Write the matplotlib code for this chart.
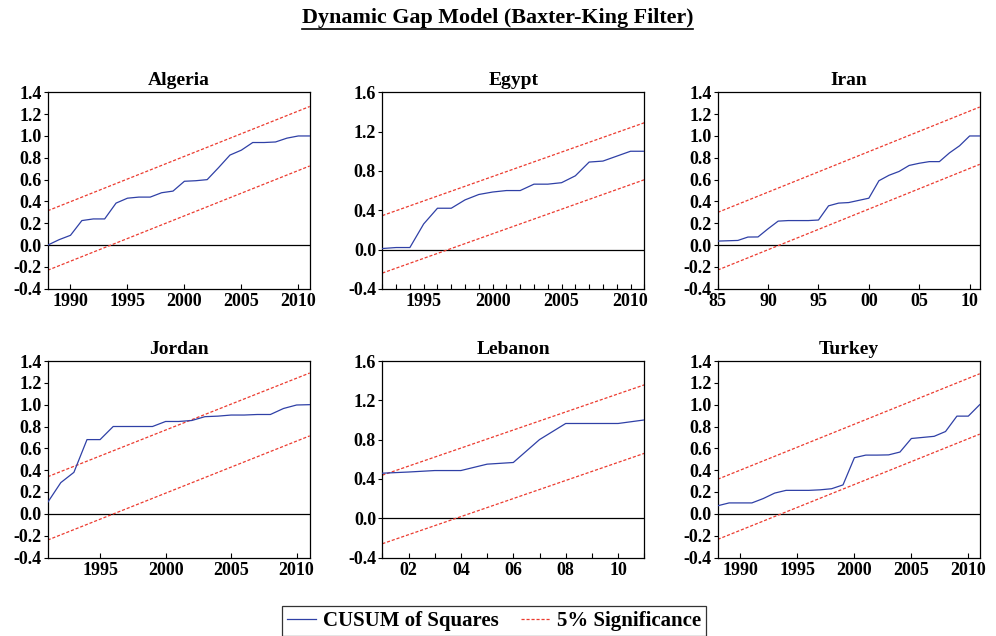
import numpy as np
import matplotlib
matplotlib.use('Agg')
import matplotlib.pyplot as plt
from matplotlib.lines import Line2D

plt.rcParams['font.family'] = ['Liberation Serif', 'DejaVu Serif']
plt.rcParams['font.weight'] = 'bold'

BLUE = '#2f40a6'
RED = '#ec3b2f'

# CUSUM of squares, first year + yearly values up to 2011
algeria_start = 1988
algeria_cusum = [0.0, 0.05, 0.09, 0.225, 0.24, 0.24, 0.385, 0.43, 0.44, 0.44, 0.48, 0.495,
                 0.585, 0.59, 0.60, 0.71, 0.825, 0.87, 0.94, 0.94, 0.945, 0.98, 1.0, 1.0]
egypt_start = 1992
egypt_cusum = [0.01, 0.02, 0.02, 0.26, 0.42, 0.42, 0.505, 0.56, 0.585, 0.60, 0.60, 0.665,
               0.665, 0.68, 0.75, 0.89, 0.90, 0.95, 1.0, 1.0]
iran_start = 1985
iran_cusum = [0.037, 0.04, 0.043, 0.074, 0.075, 0.15, 0.22, 0.225, 0.225, 0.225, 0.23, 0.36,
              0.385, 0.39, 0.41, 0.43, 0.59, 0.64, 0.675, 0.73, 0.75, 0.765, 0.765, 0.845,
              0.91, 1.0, 1.0]
jordan_start = 1991
jordan_cusum = [0.105, 0.286, 0.38, 0.68, 0.68, 0.80, 0.80, 0.80, 0.80, 0.846, 0.846, 0.855,
                0.89, 0.895, 0.905, 0.905, 0.91, 0.91, 0.965, 0.997, 1.0]
lebanon_start = 2001
lebanon_cusum = [0.458, 0.47, 0.485, 0.485, 0.55, 0.567, 0.80, 0.964, 0.964, 0.964, 1.0]
turkey_start = 1988
turkey_cusum = [0.074, 0.10, 0.10, 0.10, 0.14, 0.19, 0.215, 0.215, 0.215, 0.22, 0.23, 0.265,
                0.514, 0.538, 0.538, 0.54, 0.566, 0.69, 0.70, 0.71, 0.754, 0.895, 0.895, 1.0]

# 5% significance bounds at the first and last year
algeria_upper, algeria_lower = [0.315, 1.27], [-0.23, 0.725]
egypt_upper, egypt_lower = [0.345, 1.29], [-0.24, 0.71]
iran_upper, iran_lower = [0.30, 1.265], [-0.228, 0.74]
jordan_upper, jordan_lower = [0.34, 1.29], [-0.24, 0.714]
lebanon_upper, lebanon_lower = [0.438, 1.357], [-0.26, 0.66]
turkey_upper, turkey_lower = [0.317, 1.283], [-0.234, 0.73]

yticks_small = [-0.4, -0.2, 0.0, 0.2, 0.4, 0.6, 0.8, 1.0, 1.2, 1.4]
yticks_wide = [-0.4, 0.0, 0.4, 0.8, 1.2, 1.6]

x_full = [1990, 1995, 2000, 2005, 2010]
x_late = [1995, 2000, 2005, 2010]
x_iran = [1985, 1990, 1995, 2000, 2005, 2010]
x_iran_labels = ['85', '90', '95', '00', '05', '10']
x_lebanon = [2002, 2004, 2006, 2008, 2010]
x_lebanon_labels = ['02', '04', '06', '08', '10']

W, H = 996, 636
fig = plt.figure(figsize=(W / 100, H / 100), dpi=100)

panels = [
    ('Algeria', algeria_start, algeria_cusum, algeria_upper, algeria_lower,
     yticks_small, x_full, None, False, (47.7, 92.3)),
    ('Egypt', egypt_start, egypt_cusum, egypt_upper, egypt_lower,
     yticks_wide, x_late, None, True, (382.3, 92.3)),
    ('Iran', iran_start, iran_cusum, iran_upper, iran_lower,
     yticks_small, x_iran, x_iran_labels, False, (717.7, 92.3)),
    ('Jordan', jordan_start, jordan_cusum, jordan_upper, jordan_lower,
     yticks_small, x_late, None, False, (47.7, 361.0)),
    ('Lebanon', lebanon_start, lebanon_cusum, lebanon_upper, lebanon_lower,
     yticks_wide, x_lebanon, x_lebanon_labels, True, (382.3, 361.0)),
    ('Turkey', turkey_start, turkey_cusum, turkey_upper, turkey_lower,
     yticks_small, x_full, None, False, (717.7, 361.0)),
]

pw, ph = 262.0, 196.5
for name, start, cusum, upper, lower, yticks, xticks, xlabels, minor, (px, py) in panels:
    ax = fig.add_axes([px / W, 1 - (py + ph) / H, pw / W, ph / H])
    years = start + np.arange(len(cusum))
    ends = [years[0], years[-1]]
    ax.axhline(0.0, color='black', lw=0.9, zorder=1)
    ax.plot(ends, upper, color=RED, lw=0.9, dashes=(2.5, 1.5), zorder=2)
    ax.plot(ends, lower, color=RED, lw=0.9, dashes=(2.5, 1.5), zorder=2)
    ax.plot(years, cusum, color=BLUE, lw=0.9, zorder=3)
    ax.set_yticks(yticks)
    ax.set_yticklabels(['%.1f' % v for v in yticks])
    ax.set_xticks(xticks)
    ax.set_xticklabels(xlabels if xlabels else [str(v) for v in xticks])
    if minor:
        ax.set_xticks(years, minor=True)
    ax.set_xlim(years[0], years[-1])
    ax.set_ylim(yticks[0], yticks[-1])
    ax.tick_params(axis='y', direction='out', length=3, width=0.8, pad=1.5, labelsize=13)
    ax.tick_params(axis='x', which='both', direction='in', length=3.5, width=0.8, pad=3,
                   labelsize=13)
    for sp in ax.spines.values():
        sp.set_linewidth(0.9)
    ax.set_title(name, fontsize=14, fontweight='bold', pad=5)

title = fig.text(0.4995, 1 - 18 / H, 'Dynamic Gap Model (Baxter-King Filter)',
                 ha='center', va='center', fontsize=15.8, fontweight='bold')

handles = [Line2D([], [], color=BLUE, lw=0.9),
           Line2D([], [], color=RED, lw=0.9, dashes=(2.5, 1.5))]
leg = fig.legend(handles, ['CUSUM of Squares', '5% Significance'], ncol=2,
                 loc='center', bbox_to_anchor=(494 / W, 1 - 621 / H),
                 prop={'size': 15, 'weight': 'bold'}, frameon=True, fancybox=False,
                 handlelength=1.4, handletextpad=0.3, columnspacing=1.1,
                 borderpad=0.25, borderaxespad=0)
leg.get_frame().set_edgecolor('black')
leg.get_frame().set_linewidth(0.9)

# underline the main title
fig.canvas.draw()
bb = title.get_window_extent(fig.canvas.get_renderer())
uy = (bb.y0 - 1) / H
fig.add_artist(Line2D([bb.x0 / W, bb.x1 / W], [uy, uy], color='black', lw=1.2))

fig.savefig('out.png', dpi=100)
